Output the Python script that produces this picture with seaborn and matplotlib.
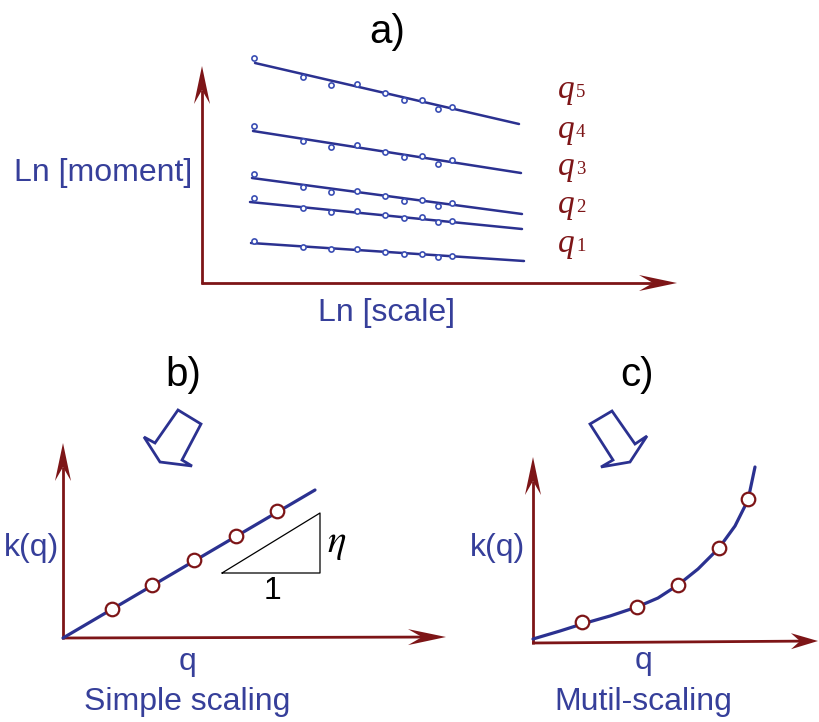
import numpy as np
import pandas as pd
import seaborn as sns
import matplotlib.pyplot as plt
from matplotlib.patches import Polygon

# ---- data (read off the schematic, in pixel units of the 819x722 canvas) ----
# panel a: five log-log regression lines (q1 .. q5)
a_labels = ["q1", "q2", "q3", "q4", "q5"]
a_pts_x = [254, 303, 331, 357, 385, 404, 422, 438, 452]
a_pts_y = {
    "q5": [58, 77, 85, 84, 93, 100, 100, 109, 107],
    "q4": [126, 141, 147, 145, 152, 157, 156, 164, 160],
    "q3": [174, 187, 192, 191, 196, 201, 200, 206, 203],
    "q2": [198, 208, 212, 211, 215, 218, 217, 222, 221],
    "q1": [241, 247, 249, 249, 252, 254, 254, 257, 256],
}
a_line_start = {"q5": (255, 63), "q4": (253, 131), "q3": (252, 178), "q2": (250, 202), "q1": (251, 243)}
a_line_end = {"q5": (519, 124), "q4": (521, 173), "q3": (522, 214), "q2": (522, 229), "q1": (524, 261)}
a_label_base = {"q5": 98, "q4": 138, "q3": 175, "q2": 213, "q1": 252}

# panel b: simple scaling, k(q) linear in q
b_line_x = [63, 315]
b_line_y = [638, 490]
b_pts_x = [112, 152, 194, 236, 277]
b_pts_y = [609, 585, 560, 536, 511]

# panel c: multi-scaling, k(q) convex in q
c_curve_x = [533, 560, 582, 610, 637, 658, 678, 698, 719, 735, 748, 755]
c_curve_y = [639, 631, 624, 616, 607, 598, 585, 569, 548, 526, 500, 467]
c_pts_x = [582, 637, 678, 719, 748]
c_pts_y = [622, 607, 585, 548, 499]

RED = "#7d1517"
NAVY = "#2b3190"
BLUE = "#363f9a"
DOT = "#3b4fb4"
SANS = "Liberation Sans"
SERIF = "Liberation Serif"

sns.set_style("white")
plt.rcParams["mathtext.fontset"] = "stix"

fig = plt.figure(figsize=(8.19, 7.22), dpi=100)
ax = fig.add_axes([0, 0, 1, 1])
ax.set_xlim(0, 819)
ax.set_ylim(722, 0)
ax.axis("off")


def axis_arrow(ax, x0, y0, x1, y1, head_len=38, half_w=8, notch=14):
    u = np.array([x1 - x0, y1 - y0], dtype=float)
    u /= np.hypot(*u)
    n = np.array([-u[1], u[0]])
    tip = np.array([x1, y1], dtype=float)
    back = tip - u * head_len
    notch_pt = tip - u * (head_len - notch)
    ax.plot([x0, notch_pt[0]], [y0, notch_pt[1]], color=RED, lw=2.0,
            solid_capstyle="butt", zorder=2)
    head = Polygon([tip, back + n * half_w, notch_pt, back - n * half_w],
                   closed=True, color=RED, lw=0, zorder=3)
    ax.add_patch(head)


def hollow_arrow(ax, outline):
    ax.add_patch(Polygon(outline, closed=True, fill=False, ec=NAVY, lw=2.0,
                         joinstyle="miter", zorder=2))


# ---- panel a ----
axis_arrow(ax, 202, 284, 202, 66)
axis_arrow(ax, 201, 283, 677, 283)
for q in a_labels:
    (sx, sy), (ex, ey) = a_line_start[q], a_line_end[q]
    df_line = pd.DataFrame({"x": [sx, ex], "y": [sy, ey]})
    sns.lineplot(data=df_line, x="x", y="y", ax=ax, color=NAVY, lw=1.8,
                 sort=False, estimator=None, zorder=3)
    df_pts = pd.DataFrame({"x": a_pts_x, "y": a_pts_y[q]})
    sns.scatterplot(data=df_pts, x="x", y="y", ax=ax, s=14, marker="o",
                    facecolor="white", edgecolor=DOT, linewidth=1.2, zorder=4)
    ax.text(558, a_label_base[q], "q", family=SERIF, style="italic", fontsize=24,
            color=RED, va="baseline", ha="left")
    ax.text(576, a_label_base[q] - 1, q[1], family=SERIF, fontsize=13.5,
            color=RED, va="baseline", ha="left")

ax.text(387, 32, "a)", family=SANS, fontsize=29, ha="center", va="center", color="black")
ax.text(103, 173, "Ln [moment]", family=SANS, fontsize=23, ha="center", va="center", color=BLUE)
ax.text(386, 313, "Ln [scale]", family=SANS, fontsize=23, ha="center", va="center", color=BLUE)

# ---- panel b ----
ax.text(183, 375, "b)", family=SANS, fontsize=29, ha="center", va="center", color="black")
hollow_arrow(ax, [(178, 410), (201, 424), (182, 460), (192, 466),
                  (160, 462), (144, 437), (155, 443)])
axis_arrow(ax, 63, 639, 63, 443)
axis_arrow(ax, 62, 638, 446, 637)
sns.lineplot(x=b_line_x, y=b_line_y, ax=ax, color=NAVY, lw=2.3, sort=False,
             estimator=None, zorder=4)
sns.scatterplot(x=b_pts_x, y=b_pts_y, ax=ax, s=95, marker="o", facecolor="white",
                edgecolor=RED, linewidth=1.6, zorder=5)
ax.plot([222, 320, 320, 222], [573, 573, 513, 573], color="black", lw=0.9, zorder=3)
ax.text(337, 543, r"$\eta$", fontsize=28, ha="center", va="center", color="black")
ax.text(273, 591, "1", family=SANS, fontsize=23, ha="center", va="center", color="black")
ax.text(31, 548, "k(q)", family=SANS, fontsize=23, ha="center", va="center", color=BLUE)
ax.text(188, 662, "q", family=SANS, fontsize=23, ha="center", va="center", color=BLUE)
ax.text(187, 702, "Simple scaling", family=SANS, fontsize=23, ha="center", va="center", color=BLUE)

# ---- panel c ----
ax.text(637, 375, "c)", family=SANS, fontsize=29, ha="center", va="center", color="black")
hollow_arrow(ax, [(590, 424), (612, 411), (635, 444), (647, 436),
                  (630, 462), (601, 467), (613, 460)])
axis_arrow(ax, 533, 644, 533, 457)
axis_arrow(ax, 532, 643, 818, 641, head_len=27, half_w=8, notch=9)
sns.lineplot(x=c_curve_x, y=c_curve_y, ax=ax, color=NAVY, lw=2.3, sort=False,
             estimator=None, zorder=4)
sns.scatterplot(x=c_pts_x, y=c_pts_y, ax=ax, s=95, marker="o", facecolor="white",
                edgecolor=RED, linewidth=1.6, zorder=5)
ax.text(497, 548, "k(q)", family=SANS, fontsize=23, ha="center", va="center", color=BLUE)
ax.text(643, 661, "q", family=SANS, fontsize=23, ha="center", va="center", color=BLUE)
ax.text(643, 702, "Mutil-scaling", family=SANS, fontsize=23, ha="center", va="center", color=BLUE)

fig.savefig("out.png", dpi=100)
